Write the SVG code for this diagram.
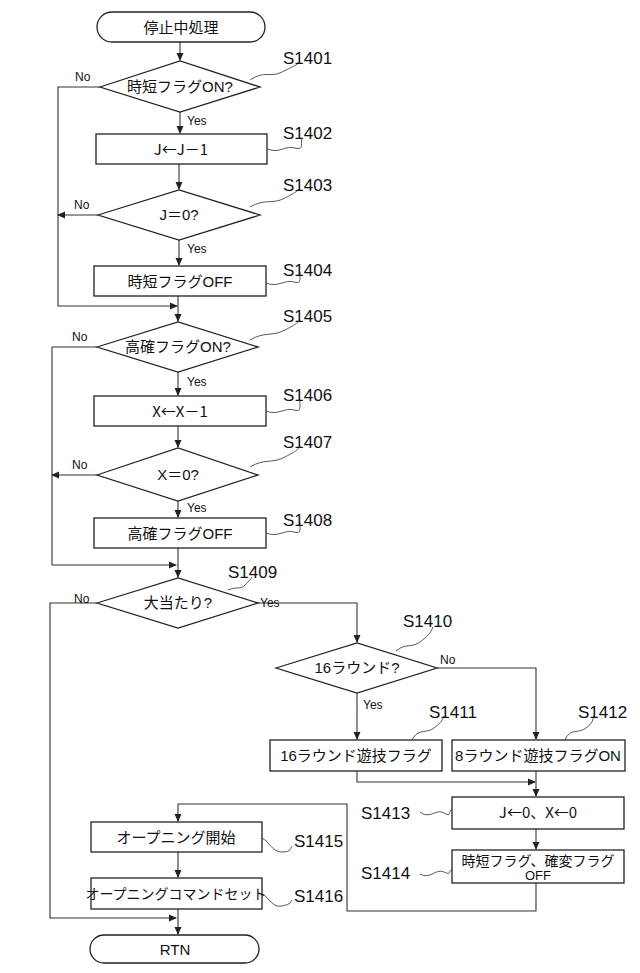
<svg xmlns="http://www.w3.org/2000/svg" width="640" height="973" viewBox="0 0 640 973">
<style>
.s{fill:#fff;stroke:#222;stroke-width:1.3}
.c{fill:none;stroke:#333;stroke-width:1.1}
.l{fill:none;stroke:#444;stroke-width:0.9}
text{font-family:"Liberation Sans","Noto Sans CJK JP",sans-serif;fill:#111}
.t{font-size:15px;text-anchor:middle}
.j{font-family:"Noto Sans CJK JP",sans-serif}
.y{font-size:12px}
.g{font-size:17px}
</style>
<defs><marker id="a" markerWidth="8" markerHeight="8" refX="7" refY="4" orient="auto" markerUnits="userSpaceOnUse"><path d="M0,0.5 L8,4 L0,7.5z" fill="#222"/></marker></defs>
<rect width="640" height="973" fill="#fff"/>
<g id="connectors">
<path class="c" d="M180,42V60" marker-end="url(#a)"/>
<path class="c" d="M100,87H58V306H177" marker-end="url(#a)"/>
<path class="c" d="M180,112V133" marker-end="url(#a)"/>
<path class="c" d="M179,164V189" marker-end="url(#a)"/>
<path class="c" d="M98,215H58" marker-end="url(#a)"/>
<path class="c" d="M179,240V265" marker-end="url(#a)"/>
<path class="c" d="M178,296V321" marker-end="url(#a)"/>
<path class="c" d="M97,347H52V565H176" marker-end="url(#a)"/>
<path class="c" d="M178,372V395" marker-end="url(#a)"/>
<path class="c" d="M178,426V447" marker-end="url(#a)"/>
<path class="c" d="M97,475H52" marker-end="url(#a)"/>
<path class="c" d="M178,501V517" marker-end="url(#a)"/>
<path class="c" d="M178,548V577" marker-end="url(#a)"/>
<path class="c" d="M97,603H50V918H176" marker-end="url(#a)"/>
<path class="c" d="M258,603H357V642" marker-end="url(#a)"/>
<path class="c" d="M437,668H536V739" marker-end="url(#a)"/>
<path class="c" d="M357,693V739" marker-end="url(#a)"/>
<path class="c" d="M357,771V782H535" marker-end="url(#a)"/>
<path class="c" d="M536,771V796" marker-end="url(#a)"/>
<path class="c" d="M536,829V849" marker-end="url(#a)"/>
<path class="c" d="M536,883V911H347V804H178V821" marker-end="url(#a)"/>
<path class="c" d="M178,852V877" marker-end="url(#a)"/>
<path class="c" d="M178,909V934" marker-end="url(#a)"/>
<text class="y" x="75" y="81">No</text>
<text class="y" x="187" y="125">Yes</text>
<text class="y" x="74" y="209">No</text>
<text class="y" x="187" y="253">Yes</text>
<text class="y" x="72" y="341">No</text>
<text class="y" x="187" y="386">Yes</text>
<text class="y" x="72" y="469">No</text>
<text class="y" x="187" y="512">Yes</text>
<text class="y" x="74" y="603">No</text>
<text class="y" x="260" y="607">Yes</text>
<text class="y" x="440" y="664">No</text>
<text class="y" x="363" y="709">Yes</text>
</g>
<g id="leaders">
<path class="l" d="M250,80 C265,70 270,78 282,72 S295,66 300,62"/>
<path class="l" d="M268,149 C280,154 285,145 295,148 S300,142 302,138"/>
<path class="l" d="M250,207 C265,198 272,205 285,198 S296,192 300,188"/>
<path class="l" d="M266,283 C278,288 285,279 294,282 S299,276 300,272"/>
<path class="l" d="M250,340 C265,331 272,337 285,330 S296,324 300,320"/>
<path class="l" d="M266,411 C278,416 285,407 294,410 S299,404 300,400"/>
<path class="l" d="M250,467 C265,458 272,464 285,457 S296,451 300,447"/>
<path class="l" d="M266,533 C278,538 285,529 294,532 S299,526 300,522"/>
<path class="l" d="M228,590 C238,586 240,590 245,585 S250,580 252,577"/>
<path class="l" d="M396,651 C405,643 412,648 420,642 S430,634 433,627"/>
<path class="l" d="M412,740 C418,728 426,734 434,728 S442,720 444,716"/>
<path class="l" d="M565,740 C570,728 578,734 586,728 S592,720 594,716"/>
<path class="l" d="M420,812 C430,820 436,808 444,813 S448,810 452,810"/>
<path class="l" d="M420,874 C430,880 436,868 444,872 S448,870 452,870"/>
<path class="l" d="M262,838 C270,842 272,852 282,852 S290,848 292,846"/>
<path class="l" d="M262,894 C270,898 272,908 282,906 S290,902 292,900"/>
</g>
<g id="labels" class="g">
<text x="283" y="64">S1401</text>
<text x="283" y="139">S1402</text>
<text x="283" y="191">S1403</text>
<text x="283" y="276">S1404</text>
<text x="283" y="322">S1405</text>
<text x="283" y="401">S1406</text>
<text x="283" y="448">S1407</text>
<text x="283" y="526">S1408</text>
<text x="228" y="578">S1409</text>
<text x="403" y="627">S1410</text>
<text x="429" y="718">S1411</text>
<text x="578" y="718">S1412</text>
<text x="361" y="819">S1413</text>
<text x="361" y="879">S1414</text>
<text x="294" y="847">S1415</text>
<text x="294" y="902">S1416</text>
</g>
<g id="start"><rect class="s" x="97" y="12" width="168" height="30" rx="15"/><text class="t" x="181" y="33">停止中処理</text></g>
<g id="S1401"><path class="s" d="M100,87L180,61L260,87L180,112z"/><text class="t" x="180" y="92">時短フラグON?</text></g>
<g id="S1402"><rect class="s" x="96" y="134" width="171" height="30"/><text class="t j" x="181" y="155">J←J－1</text></g>
<g id="S1403"><path class="s" d="M98,215L179,190L260,215L179,240z"/><text class="t" x="179" y="220">J＝0?</text></g>
<g id="S1404"><rect class="s" x="94" y="266" width="172" height="30"/><text class="t" x="180" y="287">時短フラグOFF</text></g>
<g id="S1405"><path class="s" d="M97,347L178,322L258,347L178,372z"/><text class="t" x="178" y="352">高確フラグON?</text></g>
<g id="S1406"><rect class="s" x="94" y="396" width="172" height="30"/><text class="t j" x="180" y="417">X←X－1</text></g>
<g id="S1407"><path class="s" d="M97,475L178,448L258,475L178,501z"/><text class="t" x="178" y="480">X＝0?</text></g>
<g id="S1408"><rect class="s" x="94" y="518" width="172" height="30"/><text class="t" x="180" y="539">高確フラグOFF</text></g>
<g id="S1409"><path class="s" d="M97,603L178,578L258,603L178,628z"/><text class="t" x="178" y="608">大当たり?</text></g>
<g id="S1410"><path class="s" d="M276,668L357,643L437,668L357,693z"/><text class="t" x="357" y="673">16ラウンド?</text></g>
<g id="S1411"><rect class="s" x="270" y="740" width="172" height="31"/><text class="t" x="356" y="761">16ラウンド遊技フラグ</text></g>
<g id="S1412"><rect class="s" x="452" y="740" width="173" height="31"/><text class="t" x="538" y="761">8ラウンド遊技フラグON</text></g>
<g id="S1413"><rect class="s" x="452" y="797" width="172" height="32"/><text class="t j" x="538" y="818">J←0、X←0</text></g>
<g id="S1414"><rect class="s" x="452" y="850" width="172" height="33"/><text class="t" x="538" y="866" style="font-size:14px">時短フラグ、確変フラグ</text><text class="t" x="538" y="880" style="font-size:13px">OFF</text></g>
<g id="S1415"><rect class="s" x="91" y="822" width="171" height="30"/><text class="t" x="176" y="843">オープニング開始</text></g>
<g id="S1416"><rect class="s" x="91" y="878" width="171" height="31"/><text class="t" x="176" y="899" style="font-size:14px">オープニングコマンドセット</text></g>
<g id="end"><rect class="s" x="90" y="935" width="169" height="28" rx="14"/><text class="t" x="175" y="955">RTN</text></g>
</svg>
